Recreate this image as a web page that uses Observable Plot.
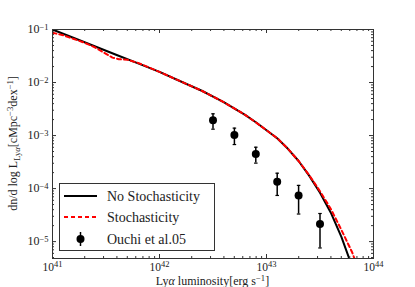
<!DOCTYPE html>
<html><head><meta charset="utf-8">
<script src="https://cdn.jsdelivr.net/npm/d3@7"></script>
<script src="https://cdn.jsdelivr.net/npm/@observablehq/plot@0.6"></script>
<style>body{margin:0;background:#fff}#chart{width:415px;height:287px}</style>
</head><body><div id="chart"></div>
<script>
// ---- data (log10 values) ----
const curveLogL      = [41.0, 41.2, 41.4, 41.6, 41.8, 42.0, 42.2, 42.4, 42.6, 42.8, 42.9, 43.0, 43.1, 43.2, 43.3, 43.4, 43.5, 43.6, 43.7, 43.8];
const noStochLogPhi  = [-1.00, -1.16, -1.32, -1.48, -1.64, -1.80, -1.98, -2.16, -2.37, -2.61, -2.75, -2.90, -3.05, -3.25, -3.48, -3.76, -4.08, -4.45, -4.91, -5.47];
const stochLogL      = [41.0, 41.1, 41.2, 41.3, 41.4, 41.5, 41.56, 41.62, 41.7, 41.8, 42.0, 42.2, 42.4, 42.6, 42.8, 42.9, 43.0, 43.1, 43.2, 43.3, 43.4, 43.5, 43.6, 43.7, 43.8, 43.9];
const stochLogPhi    = [-1.06, -1.11, -1.18, -1.25, -1.34, -1.46, -1.53, -1.56, -1.57, -1.63, -1.80, -1.98, -2.16, -2.37, -2.61, -2.75, -2.90, -3.05, -3.25, -3.48, -3.75, -4.05, -4.38, -4.78, -5.20, -5.75];
const ouchiLogL      = [42.5, 42.7, 42.9, 43.1, 43.3, 43.5];
const ouchiLogPhi    = [-2.71, -2.99, -3.35, -3.87, -4.13, -4.67];
const ouchiLogLo     = [-2.88, -3.17, -3.52, -4.13, -4.48, -5.12];
const ouchiLogHi     = [-2.59, -2.86, -3.22, -3.71, -3.94, -4.47];
const xDomain = [1e41, 1e44];
const yDomain = [4.8e-6, 1e-1];
const xMajor = [1e41, 1e42, 1e43, 1e44];
const yMajor = [1e-5, 1e-4, 1e-3, 1e-2, 1e-1];
const seriesNames = ["No Stochasticity", "Stochasticity", "Ouchi et al.05"];

// ---- tables built from the arrays ----
const noStoch = curveLogL.map((l, i) => ({L: 10 ** l, phi: 10 ** noStochLogPhi[i]}));
const stoch = stochLogL.map((l, i) => ({L: 10 ** l, phi: 10 ** stochLogPhi[i]}));
const ouchi = ouchiLogL.map((l, i) => ({L: 10 ** l, phi: 10 ** ouchiLogPhi[i], lo: 10 ** ouchiLogLo[i], hi: 10 ** ouchiLogHi[i]}));
const minorOf = (decades) => decades.flatMap(d => [2,3,4,5,6,7,8,9].map(k => k * d));
const xMinor = minorOf([1e41, 1e42, 1e43]);
const yMinor = minorOf([1e-6, 1e-5, 1e-4, 1e-3, 1e-2]).filter(v => v > yDomain[0] && v < yDomain[1]);

const W = 415, H = 287, mL = 52, mR = 42, mT = 29, mB = 29;
const pw = W - mL - mR, ph = H - mT - mB;
const majLen = 4, minLen = 2;
const tickCol = "#333";
const capSymbol = {draw(ctx, size) { const w = Math.sqrt(size) / 2; ctx.moveTo(-w, 0); ctx.lineTo(w, 0); }};
const expFmt = d => "10^" + Math.round(Math.log10(d));

const plot = Plot.plot({
  width: W, height: H,
  marginLeft: mL, marginRight: mR, marginTop: mT, marginBottom: mB,
  x: {type: "log", domain: xDomain},
  y: {type: "log", domain: yDomain},
  style: {fontFamily: "Liberation Serif", fontSize: "12px", color: "#222", background: "white"},
  marks: [
    Plot.line(noStoch, {x: "L", y: "phi", stroke: "black", strokeWidth: 2, clip: true}),
    Plot.line(stoch, {x: "L", y: "phi", stroke: "#ff0000", strokeWidth: 2, strokeDasharray: "4,3", clip: true}),
    Plot.ruleX(ouchi, {x: "L", y1: "lo", y2: "hi", stroke: "black", strokeWidth: 1.5}),
    Plot.dot(ouchi, {x: "L", y: "lo", symbol: capSymbol, r: 2, stroke: "black", strokeWidth: 1.2, fill: "none"}),
    Plot.dot(ouchi, {x: "L", y: "hi", symbol: capSymbol, r: 2, stroke: "black", strokeWidth: 1.2, fill: "none"}),
    Plot.dot(ouchi, {x: "L", y: "phi", r: 4, fill: "black", stroke: "none"}),
    // inward ticks on all four sides
    Plot.tickX(xMajor, {x: d => d, insetTop: ph - majLen, stroke: tickCol}),
    Plot.tickX(xMajor, {x: d => d, insetBottom: ph - majLen, stroke: tickCol}),
    Plot.tickX(xMinor, {x: d => d, insetTop: ph - minLen, stroke: tickCol}),
    Plot.tickX(xMinor, {x: d => d, insetBottom: ph - minLen, stroke: tickCol}),
    Plot.tickY(yMajor, {y: d => d, insetRight: pw - majLen, stroke: tickCol}),
    Plot.tickY(yMajor, {y: d => d, insetLeft: pw - majLen, stroke: tickCol}),
    Plot.tickY(yMinor, {y: d => d, insetRight: pw - minLen, stroke: tickCol}),
    Plot.tickY(yMinor, {y: d => d, insetLeft: pw - minLen, stroke: tickCol}),
    Plot.frame({stroke: "#333", strokeWidth: 1}),
    Plot.axisX(xMajor, {tickSize: 0, tickPadding: 4, tickFormat: expFmt, fontSize: 11.5, label: null}),
    Plot.axisY(yMajor, {tickSize: 0, tickPadding: 4, tickFormat: expFmt, fontSize: 12, label: null})
  ]
});
document.getElementById("chart").appendChild(plot);

const svg = d3.select(plot);
// rich tick labels: 10 with superscript exponent
svg.selectAll('g[aria-label="x-axis tick label"] text, g[aria-label="y-axis tick label"] text').each(function () {
  const t = d3.select(this);
  const s = t.text();
  const [base, exp] = s.split("^");
  t.text(null);
  t.append("tspan").text(base);
  t.append("tspan").attr("dy", "-0.45em").attr("font-size", "8.5px").text(exp.replace("-", "\u2212"));
});

// helper for rich text
function rich(sel, parts) {
  let shift = 0;
  for (const p of parts) {
    const [txt, kind, italic] = p;
    const target = kind === "sup" ? -4.5 : kind === "sub" ? 3 : 0;
    const tsp = sel.append("tspan").attr("dy", target - shift).text(txt);
    if (kind) tsp.attr("font-size", "0.72em");
    if (italic) tsp.attr("font-style", "italic");
    shift = target;
  }
}

// axis titles
const xt = svg.append("text").attr("x", mL + pw / 2).attr("y", 285).attr("text-anchor", "middle")
  .attr("font-family", "Liberation Serif").attr("font-size", 12).attr("fill", "#222");
rich(xt, [["Ly"], ["\u03b1", null, true], [" luminosity[erg s"], ["\u22121", "sup"], ["]"]]);

const yt = svg.append("text").attr("transform", `translate(17,${mT + ph / 2}) rotate(-90)`).attr("text-anchor", "middle")
  .attr("font-family", "Liberation Serif").attr("font-size", 12).attr("fill", "#222");
rich(yt, [["dn/d log L"], ["Ly", "sub"], ["\u03b1", "sub", true], ["[cMpc", null], ["\u22123", "sup"], ["dex", null], ["\u22121", "sup"], ["]", null]]);

// legend (inside the plot frame, lower left)
const lg = svg.append("g").attr("font-family", "Liberation Serif").attr("font-size", 14).attr("fill", "#222").attr("text-anchor", "start");
lg.append("rect").attr("x", 59.5).attr("y", 183.5).attr("width", 155).attr("height", 67)
  .attr("fill", "white").attr("stroke", "#333").attr("stroke-width", 1);
const rows = [196, 217, 239];
lg.append("line").attr("x1", 64).attr("x2", 97).attr("y1", rows[0]).attr("y2", rows[0]).attr("stroke", "black").attr("stroke-width", 2);
lg.append("line").attr("x1", 64).attr("x2", 97).attr("y1", rows[1]).attr("y2", rows[1]).attr("stroke", "#ff0000").attr("stroke-width", 2).attr("stroke-dasharray", "4,3");
lg.append("line").attr("x1", 80.5).attr("x2", 80.5).attr("y1", rows[2] - 7).attr("y2", rows[2] + 7).attr("stroke", "black").attr("stroke-width", 1.5);
lg.append("circle").attr("cx", 80.5).attr("cy", rows[2]).attr("r", 4).attr("fill", "black");
seriesNames.forEach((n, i) => lg.append("text").attr("x", 107).attr("y", rows[i] + 5).attr("text-anchor", "start").text(n));
</script>
</body></html>
